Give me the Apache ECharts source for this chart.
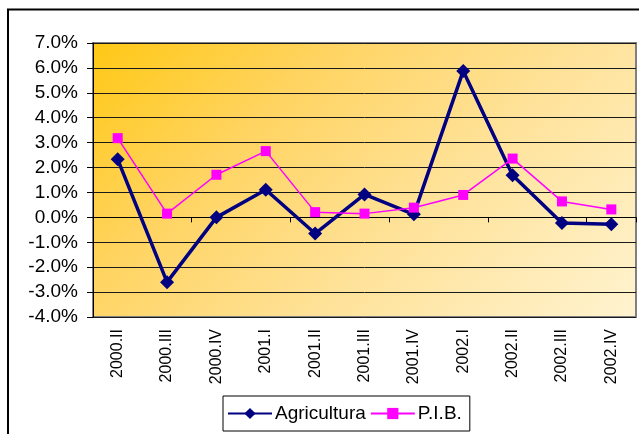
<!DOCTYPE html>
<html>
<head>
<meta charset="utf-8">
<script src="https://cdn.jsdelivr.net/npm/echarts@6/dist/echarts.min.js"></script>
<style>
  html, body { margin: 0; padding: 0; background: #fff; }
  #chart { width: 639px; height: 434px; }
</style>
</head>
<body>
<div id="chart"></div>
<script>
const quarters = ['2000.II', '2000.III', '2000.IV', '2001.I', '2001.II', '2001.III',
  '2001.IV', '2002.I', '2002.II', '2002.III', '2002.IV'];
const agricultura = [2.33, -2.6, 0.0, 1.11, -0.65, 0.92, 0.12, 5.88, 1.69, -0.23, -0.28];
const pib = [3.18, 0.15, 1.71, 2.66, 0.21, 0.15, 0.39, 0.9, 2.36, 0.64, 0.32];

const font = 'Arial, "Liberation Sans", sans-serif';

const chart = echarts.init(document.getElementById('chart'));
chart.setOption({
  animation: false,
  graphic: [{
    type: 'rect',
    shape: { x: 8, y: 9.5, width: 700, height: 500 },
    style: { fill: 'none', stroke: '#000', lineWidth: 2 },
    silent: true,
  }],
  grid: {
    left: 93,
    top: 43,
    right: 3,
    bottom: 117,
    show: true,
    borderColor: '#808080',
    borderWidth: 2,
    backgroundColor: {
      type: 'linear', x: 0, y: 0, x2: 0.75, y2: 1.49,
      colorStops: [
        { offset: 0, color: '#FFC814' },
        { offset: 0.3, color: '#FFD462' },
        { offset: 0.6, color: '#FFE298' },
        { offset: 1, color: '#FFF3D0' },
      ],
    },
  },
  legend: {
    left: 223,
    top: 396,
    width: 253,
    itemGap: 4,
    itemWidth: 44,
    itemHeight: 14,
    padding: [8, 8, 8, 4],
    borderColor: '#000',
    borderWidth: 1,
    textStyle: { fontFamily: font, fontSize: 19, color: '#000', padding: [0, 0, 0, -2] },
    data: ['Agricultura', 'P.I.B.'],
  },
  xAxis: [{
    type: 'category',
    data: quarters,
    axisLine: { onZero: true, lineStyle: { color: '#000', width: 1 } },
    axisTick: { show: true, length: 5, lineStyle: { color: '#000' } },
    axisLabel: { show: false },
    splitLine: { show: false },
  }, {
    type: 'category',
    data: quarters,
    position: 'bottom',
    axisLine: { show: false, onZero: false },
    axisTick: { show: false },
    axisLabel: {
      rotate: 90,
      margin: 12,
      fontFamily: font,
      fontSize: 16,
      color: '#000',
    },
  }],
  yAxis: {
    type: 'value',
    min: -4,
    max: 7,
    interval: 1,
    axisLine: { show: true, lineStyle: { color: '#000', width: 1 } },
    axisTick: { show: true, length: 6, lineStyle: { color: '#000' } },
    axisLabel: {
      margin: 15,
      fontFamily: font,
      fontSize: 19,
      color: '#000',
      formatter: v => v.toFixed(1) + '%',
    },
    splitLine: { lineStyle: { color: '#1a1a1a', width: 1 } },
  },
  series: [{
    name: 'Agricultura',
    type: 'line',
    data: agricultura,
    symbol: 'diamond',
    symbolSize: 14,
    color: '#000080',
    lineStyle: { width: 3.5, color: '#000080' },
    itemStyle: { color: '#000080' },
  }, {
    name: 'P.I.B.',
    type: 'line',
    data: pib,
    symbol: 'rect',
    symbolSize: 10,
    color: '#FF00FF',
    lineStyle: { width: 1.5, color: '#FF00FF' },
    itemStyle: { color: '#FF00FF' },
  }],
});
</script>
</body>
</html>
